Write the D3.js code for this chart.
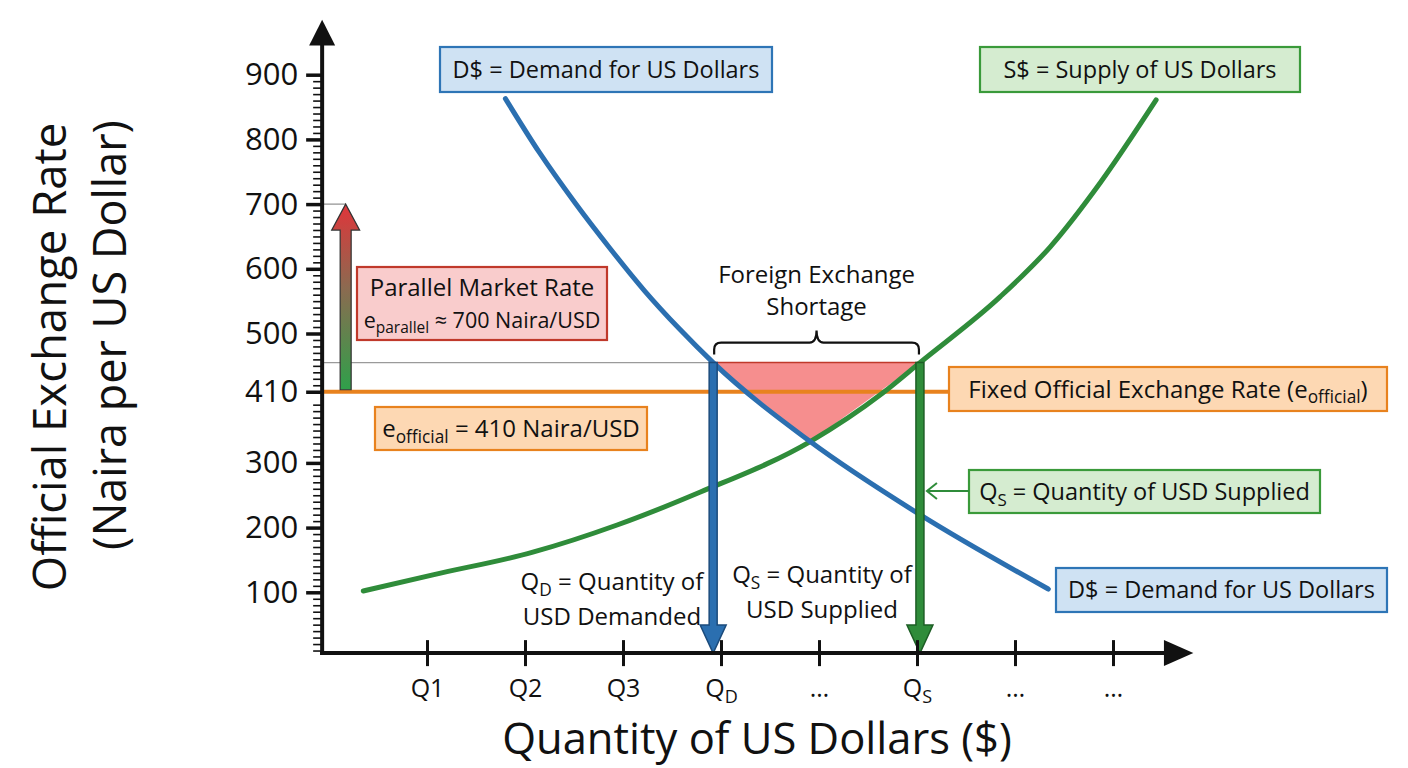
<!DOCTYPE html>
<meta charset="utf-8">
<script src="https://d3js.org/d3.v7.min.js"></script>
<style>
  body { margin: 0; background: #fff; font-family: "Open Sans", sans-serif; }
  svg text { fill: #111; }
</style>
<body>
<div id="chart"></div>
<script>

// ---- data ----
var yTickValues = [100, 200, 300, 410, 500, 600, 700, 800, 900];
var xTickValues = [1, 2, 3, 4, 5, 6, 7, 8];
var xTickLabels = ["Q1", "Q2", "Q3", "Q_{D}", "…", "Q_{S}", "…", "…"];

// demand curve D$ (quantity, naira per USD)
var demandQ = [1.80, 2.15, 2.51, 2.87, 3.22, 3.57, 3.92, 4.91, 6.03, 7.34];
var demandE = [863, 779, 702, 631, 566, 508, 455, 333, 220, 105];

// supply curve S$
var supplyQ = [0.35, 1.06, 2.08, 2.94, 3.79, 4.91, 5.65, 6.03, 6.85, 7.36, 7.87, 8.44];
var supplyE = [102, 127, 162, 204, 255, 333, 408, 455, 557, 634, 733, 861];

var officialRate = 410;
var parallelRate = 700;
var shortageRate = 455;   // rate where Qd and Qs are read
var qD = 3.92, qS = 6.03;
var crossQ = 4.91, crossE = 333;

// ---- scales ----
var width = 1408, height = 768;
var x = d3.scaleLinear().domain([0, 9]).range([329, 1211]);
var y = d3.scaleLinear().domain([0, 1000]).range([657, 10]);

var axisX = x(-0.07);      // where the y axis stands
var axisY = y(6);          // where the x axis lies

var blue = "#2b6fb0", green = "#2f8c3a", orange = "#e8821e";

var svg = d3.select("#chart").append("svg")
    .attr("width", width)
    .attr("height", height);

var defs = svg.append("defs");
var grad = defs.append("linearGradient")
    .attr("id", "parGrad").attr("x1", 0).attr("y1", 1).attr("x2", 0).attr("y2", 0);
grad.append("stop").attr("offset", "0%").attr("stop-color", "#2fa04a");
grad.append("stop").attr("offset", "55%").attr("stop-color", "#8c6a50");
grad.append("stop").attr("offset", "100%").attr("stop-color", "#e0353a");

// text with _{sub} pieces
function rich(sel, str, size) {
  var parts = str.split(/(_\{[^}]*\})/).filter(function(p) { return p.length; });
  var shift = 0;
  parts.forEach(function(p) {
    if (p.indexOf("_{") === 0) {
      sel.append("tspan").attr("font-size", size * 0.72).attr("dy", size * 0.24)
        .text(p.slice(2, -1));
      shift = size * 0.24;
    } else {
      sel.append("tspan").attr("dy", -shift).text(p);
      shift = 0;
    }
  });
}

// ---- gray guide line at shortage rate ----
svg.append("line")
    .attr("x1", axisX).attr("x2", x(qD))
    .attr("y1", y(shortageRate)).attr("y2", y(shortageRate))
    .attr("stroke", "#9a9a9a").attr("stroke-width", 1.2);

// ---- shortage triangle ----
var tri = [[qD, shortageRate], [qS, shortageRate], [crossQ, crossE]];
svg.append("path")
    .attr("d", d3.line().x(function(d) { return x(d[0]); }).y(function(d) { return y(d[1]); })(tri) + "Z")
    .attr("fill", "#f47a7a").attr("fill-opacity", 0.85);
svg.append("line")
    .attr("x1", x(qD)).attr("x2", x(qS))
    .attr("y1", y(shortageRate)).attr("y2", y(shortageRate))
    .attr("stroke", "#c0392b").attr("stroke-width", 1.5);

// ---- fixed official rate line ----
svg.append("line")
    .attr("x1", axisX).attr("x2", 950)
    .attr("y1", y(officialRate)).attr("y2", y(officialRate))
    .attr("stroke", orange).attr("stroke-width", 4);

// ---- curves ----
var line = d3.line()
    .x(function(d) { return x(d[0]); })
    .y(function(d) { return y(d[1]); })
    .curve(d3.curveMonotoneX);

svg.append("path")
    .attr("d", line(d3.zip(supplyQ, supplyE)))
    .attr("fill", "none").attr("stroke", green).attr("stroke-width", 5)
    .attr("stroke-linecap", "round");

svg.append("path")
    .attr("d", line(d3.zip(demandQ, demandE)))
    .attr("fill", "none").attr("stroke", blue).attr("stroke-width", 5)
    .attr("stroke-linecap", "round");

// ---- vertical quantity arrows ----
function downArrow(q, color, edge) {
  var cx = x(q), top = y(shortageRate), tip = axisY, headH = 28, hw = 13, sw = 4;
  svg.append("path")
    .attr("d", "M" + (cx - sw) + "," + top + "L" + (cx + sw) + "," + top +
               "L" + (cx + sw) + "," + (tip - headH) + "L" + (cx + hw) + "," + (tip - headH) +
               "L" + cx + "," + tip + "L" + (cx - hw) + "," + (tip - headH) +
               "L" + (cx - sw) + "," + (tip - headH) + "Z")
    .attr("fill", color).attr("stroke", edge).attr("stroke-width", 1.5)
    .attr("stroke-linejoin", "miter");
}
downArrow(qD, blue, "#1b4b7c");
downArrow(qS, green, "#1d5e25");

// ---- parallel market arrow ----
(function() {
  var cx = x(0.17), bot = y(officialRate) - 2, tip = y(parallelRate), headH = 26, hw = 14, sw = 5.5;
  svg.append("line")
    .attr("x1", axisX - 15).attr("x2", cx)
    .attr("y1", tip).attr("y2", tip)
    .attr("stroke", "#777").attr("stroke-width", 1);
  svg.append("path")
    .attr("d", "M" + (cx - sw) + "," + bot + "L" + (cx + sw) + "," + bot +
               "L" + (cx + sw) + "," + (tip + headH) + "L" + (cx + hw) + "," + (tip + headH) +
               "L" + cx + "," + tip + "L" + (cx - hw) + "," + (tip + headH) +
               "L" + (cx - sw) + "," + (tip + headH) + "Z")
    .attr("fill", "url(#parGrad)").attr("stroke", "#333").attr("stroke-width", 1.2);
})();

// ---- axes ----
var yAxisG = svg.append("g").attr("transform", "translate(" + axisX + ",0)");

yAxisG.append("g")
    .call(d3.axisLeft(y).tickValues(d3.range(10, 901, 10).filter(function(v) { return v % 100 !== 0; }))
      .tickSize(9).tickFormat(""))
    .call(function(g) { g.select(".domain").remove(); })
    .selectAll("line").attr("stroke", "#111").attr("stroke-width", 1.6);

yAxisG.append("g")
    .call(d3.axisLeft(y).tickValues(yTickValues).tickSize(16).tickPadding(8))
    .call(function(g) { g.select(".domain").remove(); })
    .call(function(g) {
      g.selectAll("line").attr("stroke", "#111").attr("stroke-width", 3.5);
      g.selectAll("text").attr("font-size", 31).attr("font-family", "Open Sans").attr("fill", "#111");
    });

var xAxisG = svg.append("g").attr("transform", "translate(0," + axisY + ")");
xAxisG.call(d3.axisBottom(x).tickValues(xTickValues).tickSize(13).tickFormat(""))
    .call(function(g) { g.select(".domain").remove(); })
    .call(function(g) {
      g.selectAll("line").attr("y1", -13).attr("stroke", "#111").attr("stroke-width", 3);
    });
xAxisG.selectAll(".tick").each(function(d, i) {
  var t = d3.select(this).append("text")
      .attr("y", 44).attr("text-anchor", "middle")
      .attr("font-size", 25).attr("font-family", "Open Sans");
  rich(t, xTickLabels[i], 25);
});

// axis lines with arrow heads
svg.append("line")
    .attr("x1", axisX).attr("x2", axisX).attr("y1", axisY + 2).attr("y2", y(960))
    .attr("stroke", "#111").attr("stroke-width", 4);
svg.append("path")
    .attr("d", "M" + axisX + "," + y(985) + "L" + (axisX + 13) + "," + y(945) + "L" + (axisX - 13) + "," + y(945) + "Z")
    .attr("fill", "#111");
svg.append("line")
    .attr("x1", axisX - 2).attr("x2", x(8.55)).attr("y1", axisY).attr("y2", axisY)
    .attr("stroke", "#111").attr("stroke-width", 4);
svg.append("path")
    .attr("d", "M" + x(8.82) + "," + axisY + "L" + x(8.52) + "," + (axisY - 13) + "L" + x(8.52) + "," + (axisY + 13) + "Z")
    .attr("fill", "#111");

// ---- axis titles ----
svg.append("text")
    .attr("transform", "translate(66," + 357 + ") rotate(-90)")
    .attr("text-anchor", "middle").attr("font-size", 45.5)
    .text("Official Exchange Rate");
svg.append("text")
    .attr("transform", "translate(126," + 335 + ") rotate(-90)")
    .attr("text-anchor", "middle").attr("font-size", 45)
    .text("(Naira per US Dollar)");
svg.append("text")
    .attr("x", 757).attr("y", 754)
    .attr("text-anchor", "middle").attr("font-size", 43.5)
    .text("Quantity of US Dollars ($)");

// ---- labelled boxes ----
function box(x0, y0, x1, y1, fill, stroke, lines) {
  svg.append("rect")
    .attr("x", x0).attr("y", y0).attr("width", x1 - x0).attr("height", y1 - y0)
    .attr("fill", fill).attr("stroke", stroke).attr("stroke-width", 2.2);
  var n = lines.length, lh = 33;
  lines.forEach(function(l, i) {
    var t = svg.append("text")
      .attr("x", (x0 + x1) / 2)
      .attr("y", (y0 + y1) / 2 + (i - (n - 1) / 2) * lh + l[1] * 0.36)
      .attr("text-anchor", "middle").attr("font-size", l[1]);
    rich(t, l[0], l[1]);
  });
}

box(440, 47, 772, 92, "#cfe2f3", "#2e75b6", [["D$ = Demand for US Dollars", 23.5]]);
box(980, 47, 1300, 92, "#d5ecd0", "#3a9a3a", [["S$ = Supply of US Dollars", 23.5]]);
box(357, 267, 607, 340, "#f9cccc", "#c0392b", [["Parallel Market Rate", 24], ["e_{parallel} ≈ 700 Naira/USD", 21.5]]);
box(375, 407, 647, 450, "#fdd8b3", orange, [["e_{official} = 410 Naira/USD", 24]]);
box(949, 367, 1387, 411, "#fdd8b3", orange, [["Fixed Official Exchange Rate (e_{official})", 24]]);
box(969, 470, 1320, 513, "#d5ecd0", "#3a9a3a", [["Q_{S} = Quantity of USD Supplied", 23.5]]);
box(1056, 568, 1387, 612, "#cfe2f3", "#2e75b6", [["D$ = Demand for US Dollars", 23.5]]);

// pointer from Qs box to the Qs arrow
(function() {
  var yy = 491, x0 = 969, x1 = x(qS) + 7;
  svg.append("line").attr("x1", x0).attr("x2", x1).attr("y1", yy).attr("y2", yy)
    .attr("stroke", green).attr("stroke-width", 2);
  svg.append("path")
    .attr("d", "M" + (x1 + 10) + "," + (yy - 8) + "L" + x1 + "," + yy + "L" + (x1 + 10) + "," + (yy + 8))
    .attr("fill", "none").attr("stroke", green).attr("stroke-width", 2);
})();

// ---- free annotations ----
function note(cx, baseY, lines, size, gap) {
  lines.forEach(function(s, i) {
    var t = svg.append("text")
      .attr("x", cx).attr("y", baseY + i * gap)
      .attr("text-anchor", "middle").attr("font-size", size);
    rich(t, s, size);
  });
}
note(612, 590, ["Q_{D} = Quantity of", "USD Demanded"], 24, 35);
note(822, 583, ["Q_{S} = Quantity of", "USD Supplied"], 24, 35);
note((x(qD) + x(qS)) / 2, 283, ["Foreign Exchange", "Shortage"], 24, 32);

// brace over the shortage
(function() {
  var xl = x(qD) + 1, xr = x(qS) - 1, xm = (xl + xr) / 2, yb = y(shortageRate) - 8, yh = yb - 12, yt = yh - 12, r = 7;
  var d = "M" + xl + "," + yb +
          "L" + xl + "," + (yh + r) + "Q" + xl + "," + yh + " " + (xl + r) + "," + yh +
          "L" + (xm - r) + "," + yh + "Q" + xm + "," + yh + " " + xm + "," + yt +
          "Q" + xm + "," + yh + " " + (xm + r) + "," + yh +
          "L" + (xr - r) + "," + yh + "Q" + xr + "," + yh + " " + xr + "," + (yh + r) +
          "L" + xr + "," + yb;
  svg.append("path").attr("d", d).attr("fill", "none").attr("stroke", "#111").attr("stroke-width", 2.2);
})();

</script>
</body>
